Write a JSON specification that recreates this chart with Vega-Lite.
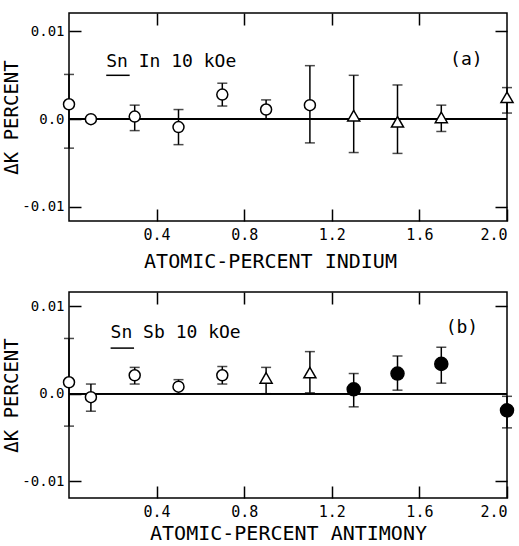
{
  "$schema": "https://vega.github.io/schema/vega-lite/v6.json",
  "padding": {"left": 2, "top": 11, "right": 5, "bottom": 0},
  "background": "white",
  "spacing": 18,
  "config": {
    "view": {"stroke": "black", "strokeWidth": 1.5},
    "font": "DejaVu Sans Mono",
    "axis": {
      "domain": false, "grid": false, "tickColor": "black", "tickWidth": 1.5, "tickSize": 12, "offset": -12,
      "labelColor": "black", "titleColor": "black", "labelFontSize": 14, "titleFontSize": 20,
      "titleFontWeight": "normal", "labelFont": "DejaVu Sans Mono", "titleFont": "DejaVu Sans Mono"
    },
    "text": {"font": "DejaVu Sans Mono", "color": "black"}
  },
  "datasets": {
    "a": [
      {"x": 0.0, "y": 0.0017, "lo": -0.0033, "hi": 0.0051, "set": "A"},
      {"x": 0.1, "y": 0.0, "lo": null, "hi": null, "set": "A"},
      {"x": 0.3, "y": 0.0003, "lo": -0.0013, "hi": 0.0016, "set": "A"},
      {"x": 0.5, "y": -0.0009, "lo": -0.0029, "hi": 0.0011, "set": "A"},
      {"x": 0.7, "y": 0.0028, "lo": 0.0015, "hi": 0.0041, "set": "A"},
      {"x": 0.9, "y": 0.0011, "lo": 0.0, "hi": 0.0022, "set": "A"},
      {"x": 1.1, "y": 0.0016, "lo": -0.0027, "hi": 0.0061, "set": "A"},
      {"x": 1.3, "y": 0.0004, "lo": -0.0038, "hi": 0.0050, "set": "B"},
      {"x": 1.5, "y": -0.0003, "lo": -0.0039, "hi": 0.0039, "set": "B"},
      {"x": 1.7, "y": 0.0002, "lo": -0.0014, "hi": 0.0016, "set": "B"},
      {"x": 2.0, "y": 0.0025, "lo": 0.0007, "hi": 0.0036, "set": "B"}
    ],
    "b": [
      {"x": 0.0, "y": 0.0013, "lo": -0.0037, "hi": 0.0063, "set": "A"},
      {"x": 0.1, "y": -0.0004, "lo": -0.0020, "hi": 0.0011, "set": "A"},
      {"x": 0.3, "y": 0.0021, "lo": 0.0011, "hi": 0.0030, "set": "A"},
      {"x": 0.5, "y": 0.0008, "lo": 0.0, "hi": 0.0016, "set": "A"},
      {"x": 0.7, "y": 0.0021, "lo": 0.0011, "hi": 0.0031, "set": "A"},
      {"x": 0.9, "y": 0.0018, "lo": 0.0, "hi": 0.0030, "set": "B"},
      {"x": 1.1, "y": 0.0024, "lo": 0.0001, "hi": 0.0048, "set": "B"},
      {"x": 1.3, "y": 0.0005, "lo": -0.0015, "hi": 0.0023, "set": "C"},
      {"x": 1.5, "y": 0.0023, "lo": 0.0004, "hi": 0.0043, "set": "C"},
      {"x": 1.7, "y": 0.0034, "lo": 0.0012, "hi": 0.0053, "set": "C"},
      {"x": 2.0, "y": -0.0019, "lo": -0.0039, "hi": -0.0003, "set": "C"}
    ],
    "labA": [{"x": 0.17, "y": 0.0065, "t": "Sn  In 10 kOe"}, {"x": 1.74, "y": 0.0067, "t": "(a)"}],
    "ulA": [{"x": 0.17, "x2": 0.277, "y": 0.0050}],
    "labB": [{"x": 0.19, "y": 0.0069, "t": "Sn  Sb 10 kOe"}, {"x": 1.72, "y": 0.0075, "t": "(b)"}],
    "ulB": [{"x": 0.19, "x2": 0.297, "y": 0.0052}]
  },
  "vconcat": [
    {
      "width": 438, "height": 208,
      "data": {"name": "a"},
      "resolve": {"axis": {"x": "independent", "y": "independent"}},
      "layer": [
        {
          "mark": {"type": "rule", "color": "black", "strokeWidth": 1.2},
          "encoding": {"y": {"datum": 0, "type": "quantitative", "scale": {"domain": [-0.0116, 0.0121], "nice": false, "zero": false}, "axis": null}}
        },
        {
          "mark": {"type": "rule", "color": "black", "strokeWidth": 1.5},
          "encoding": {
            "x": {"field": "x", "type": "quantitative", "scale": {"domain": [0, 2], "nice": false, "zero": false},
                  "axis": {"orient": "top", "labels": false, "values": [0.4, 0.8, 1.2, 1.6], "title": null}},
            "y": {"field": "lo", "type": "quantitative", "scale": {"domain": [-0.0116, 0.0121], "nice": false, "zero": false},
                  "axis": {"orient": "right", "labels": false, "values": [-0.01, 0.01], "title": null}},
            "y2": {"field": "hi"}
          }
        },
        {
          "mark": {"type": "tick", "orient": "horizontal", "size": 10, "thickness": 1.5, "color": "black"},
          "encoding": {
            "x": {"field": "x", "type": "quantitative", "scale": {"domain": [0, 2], "nice": false, "zero": false}, "axis": null},
            "y": {"field": "lo", "type": "quantitative", "scale": {"domain": [-0.0116, 0.0121], "nice": false, "zero": false}, "axis": null}
          }
        },
        {
          "mark": {"type": "tick", "orient": "horizontal", "size": 10, "thickness": 1.5, "color": "black"},
          "encoding": {
            "x": {"field": "x", "type": "quantitative", "scale": {"domain": [0, 2], "nice": false, "zero": false}, "axis": null},
            "y": {"field": "hi", "type": "quantitative", "scale": {"domain": [-0.0116, 0.0121], "nice": false, "zero": false}, "axis": null}
          }
        },
        {
          "mark": {"type": "point", "filled": true, "stroke": "black", "strokeWidth": 1.5, "opacity": 1},
          "encoding": {
            "x": {"field": "x", "type": "quantitative", "scale": {"domain": [0, 2], "nice": false, "zero": false},
                  "axis": {"orient": "bottom", "values": [0.4, 0.8, 1.2, 1.6, 2.0], "format": ".1f", "title": "ATOMIC-PERCENT   INDIUM", "titleX": 201, "labelFontSize": 15, "labelPadding": 6, "titlePadding": 9}},
            "y": {"field": "y", "type": "quantitative", "scale": {"domain": [-0.0116, 0.0121], "nice": false, "zero": false},
                  "axis": {"orient": "left", "values": [-0.01, 0, 0.01], "labelExpr": "datum.value == 0 ? '0.0' : (datum.value < 0 ? '-0.01' : '0.01')", "title": "ΔK PERCENT", "titleFontSize": 19, "labelPadding": 5, "titlePadding": 0}},
            "shape": {"field": "set", "type": "nominal", "scale": {"domain": ["A", "B", "C"], "range": ["circle", "triangle-up", "circle"]}, "legend": null},
            "fill": {"field": "set", "type": "nominal", "scale": {"domain": ["A", "B", "C"], "range": ["white", "white", "black"]}, "legend": null},
            "size": {"field": "set", "type": "nominal", "scale": {"domain": ["A", "B", "C"], "range": [121, 170, 150]}, "legend": null}
          }
        },
        {
          "data": {"name": "labA"},
          "mark": {"type": "text", "align": "left", "baseline": "middle", "fontSize": 18},
          "encoding": {
            "x": {"field": "x", "type": "quantitative", "scale": {"domain": [0, 2], "nice": false, "zero": false}, "axis": null},
            "y": {"field": "y", "type": "quantitative", "scale": {"domain": [-0.0116, 0.0121], "nice": false, "zero": false}, "axis": null},
            "text": {"field": "t"}
          }
        },
        {
          "data": {"name": "ulA"},
          "mark": {"type": "rule", "color": "black", "strokeWidth": 1.5},
          "encoding": {
            "x": {"field": "x", "type": "quantitative", "scale": {"domain": [0, 2], "nice": false, "zero": false}, "axis": null},
            "x2": {"field": "x2"},
            "y": {"field": "y", "type": "quantitative", "scale": {"domain": [-0.0116, 0.0121], "nice": false, "zero": false}, "axis": null}
          }
        }
      ]
    },
    {
      "width": 438, "height": 206,
      "data": {"name": "b"},
      "resolve": {"axis": {"x": "independent", "y": "independent"}},
      "layer": [
        {
          "mark": {"type": "rule", "color": "black", "strokeWidth": 1.2},
          "encoding": {"y": {"datum": 0, "type": "quantitative", "scale": {"domain": [-0.0119, 0.0116], "nice": false, "zero": false}, "axis": null}}
        },
        {
          "mark": {"type": "rule", "color": "black", "strokeWidth": 1.5},
          "encoding": {
            "x": {"field": "x", "type": "quantitative", "scale": {"domain": [0, 2], "nice": false, "zero": false},
                  "axis": {"orient": "top", "labels": false, "values": [0.4, 0.8, 1.2, 1.6], "title": null}},
            "y": {"field": "lo", "type": "quantitative", "scale": {"domain": [-0.0119, 0.0116], "nice": false, "zero": false},
                  "axis": {"orient": "right", "labels": false, "values": [-0.01, 0.01], "title": null}},
            "y2": {"field": "hi"}
          }
        },
        {
          "mark": {"type": "tick", "orient": "horizontal", "size": 10, "thickness": 1.5, "color": "black"},
          "encoding": {
            "x": {"field": "x", "type": "quantitative", "scale": {"domain": [0, 2], "nice": false, "zero": false}, "axis": null},
            "y": {"field": "lo", "type": "quantitative", "scale": {"domain": [-0.0119, 0.0116], "nice": false, "zero": false}, "axis": null}
          }
        },
        {
          "mark": {"type": "tick", "orient": "horizontal", "size": 10, "thickness": 1.5, "color": "black"},
          "encoding": {
            "x": {"field": "x", "type": "quantitative", "scale": {"domain": [0, 2], "nice": false, "zero": false}, "axis": null},
            "y": {"field": "hi", "type": "quantitative", "scale": {"domain": [-0.0119, 0.0116], "nice": false, "zero": false}, "axis": null}
          }
        },
        {
          "mark": {"type": "point", "filled": true, "stroke": "black", "strokeWidth": 1.5, "opacity": 1},
          "encoding": {
            "x": {"field": "x", "type": "quantitative", "scale": {"domain": [0, 2], "nice": false, "zero": false},
                  "axis": {"orient": "bottom", "values": [0.4, 0.8, 1.2, 1.6, 2.0], "format": ".1f", "title": "ATOMIC-PERCENT   ANTIMONY", "labelFontSize": 15, "labelPadding": 6, "titlePadding": 4}},
            "y": {"field": "y", "type": "quantitative", "scale": {"domain": [-0.0119, 0.0116], "nice": false, "zero": false},
                  "axis": {"orient": "left", "values": [-0.01, 0, 0.01], "labelExpr": "datum.value == 0 ? '0.0' : (datum.value < 0 ? '-0.01' : '0.01')", "title": "ΔK PERCENT", "titleFontSize": 19, "labelPadding": 5, "titlePadding": 0}},
            "shape": {"field": "set", "type": "nominal", "scale": {"domain": ["A", "B", "C"], "range": ["circle", "triangle-up", "circle"]}, "legend": null},
            "fill": {"field": "set", "type": "nominal", "scale": {"domain": ["A", "B", "C"], "range": ["white", "white", "black"]}, "legend": null},
            "size": {"field": "set", "type": "nominal", "scale": {"domain": ["A", "B", "C"], "range": [110, 160, 155]}, "legend": null}
          }
        },
        {
          "data": {"name": "labB"},
          "mark": {"type": "text", "align": "left", "baseline": "middle", "fontSize": 18},
          "encoding": {
            "x": {"field": "x", "type": "quantitative", "scale": {"domain": [0, 2], "nice": false, "zero": false}, "axis": null},
            "y": {"field": "y", "type": "quantitative", "scale": {"domain": [-0.0119, 0.0116], "nice": false, "zero": false}, "axis": null},
            "text": {"field": "t"}
          }
        },
        {
          "data": {"name": "ulB"},
          "mark": {"type": "rule", "color": "black", "strokeWidth": 1.5},
          "encoding": {
            "x": {"field": "x", "type": "quantitative", "scale": {"domain": [0, 2], "nice": false, "zero": false}, "axis": null},
            "x2": {"field": "x2"},
            "y": {"field": "y", "type": "quantitative", "scale": {"domain": [-0.0119, 0.0116], "nice": false, "zero": false}, "axis": null}
          }
        }
      ]
    }
  ]
}
